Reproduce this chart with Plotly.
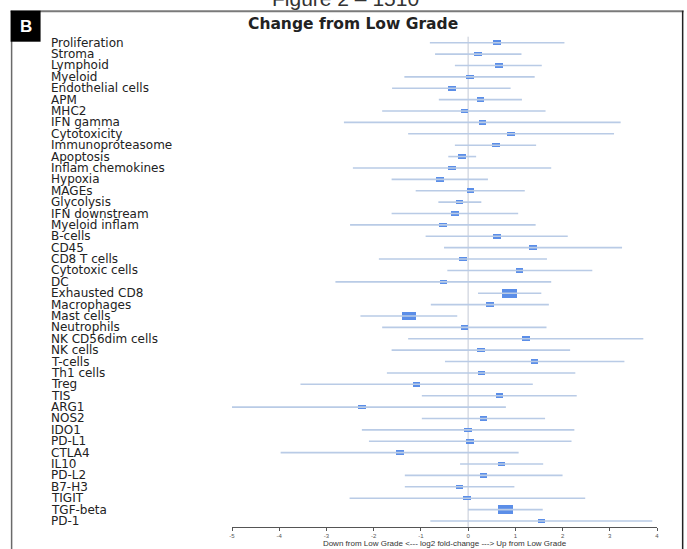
import plotly.graph_objects as go

# ---- data (log2 fold-change vs Low Grade) ----
signatures = [
    "Proliferation", "Stroma", "Lymphoid", "Myeloid", "Endothelial cells", "APM", "MHC2",
    "IFN gamma", "Cytotoxicity", "Immunoproteasome", "Apoptosis", "Inflam chemokines",
    "Hypoxia", "MAGEs", "Glycolysis", "IFN downstream", "Myeloid inflam", "B-cells", "CD45",
    "CD8 T cells", "Cytotoxic cells", "DC", "Exhausted CD8", "Macrophages", "Mast cells",
    "Neutrophils", "NK CD56dim cells", "NK cells", "T-cells", "Th1 cells", "Treg", "TIS",
    "ARG1", "NOS2", "IDO1", "PD-L1", "CTLA4", "IL10", "PD-L2", "B7-H3", "TIGIT",
    "TGF-beta", "PD-1",
]
estimate = [
    0.61, 0.21, 0.65, 0.04, -0.34, 0.26, -0.08, 0.30, 0.91, 0.59, -0.13, -0.34, -0.60,
    0.05, -0.18, -0.28, -0.53, 0.61, 1.37, -0.11, 1.09, -0.52, 0.88, 0.46, -1.25, -0.08,
    1.22, 0.27, 1.41, 0.28, -1.09, 0.66, -2.25, 0.33, 0.00, 0.04, -1.44, 0.71, 0.33,
    -0.18, -0.02, 0.79, 1.55,
]
ci_low = [
    -0.81, -0.70, -0.28, -1.35, -1.61, -0.62, -1.82, -2.63, -1.27, -0.28, -0.42, -2.44,
    -1.62, -1.11, -0.63, -1.62, -2.50, -0.90, -0.51, -1.89, -0.44, -2.81, 0.21, -0.79,
    -2.28, -1.82, -1.27, -1.62, -0.49, -1.72, -3.55, -0.98, -5.31, -0.98, -2.25, -2.10,
    -3.97, -0.17, -1.34, -1.34, -2.51, 0.00, -0.80,
]
ci_high = [
    2.04, 1.13, 1.56, 1.41, 0.90, 1.14, 1.64, 3.23, 3.09, 1.44, 0.17, 1.76, 0.42, 1.20,
    0.28, 1.06, 1.43, 2.11, 3.26, 1.67, 2.63, 1.76, 1.55, 1.71, -0.23, 1.66, 3.71, 2.16,
    3.31, 2.27, 1.37, 2.30, 0.80, 1.63, 2.25, 2.19, 1.07, 1.59, 2.00, 0.98, 2.48, 1.58,
    3.90,
]
# relative weight (drawn as box size)
weight = [1] * len(signatures)
for name in ("Exhausted CD8", "Mast cells", "TGF-beta"):
    weight[signatures.index(name)] = 1.9

x_ticks = [-5, -4, -3, -2, -1, 0, 1, 2, 3, 4]
x_title = "Down from Low Grade <--- log2 fold-change ---> Up from Low Grade"

# ---- layout geometry (pixels) ----
W, H = 687, 549
L, R, T, B = 231.7, 657.3, 37.3, 527.0


def px(x):
    return (x - L) / (R - L)


def py(y):
    return (B - y) / (B - T)


n = len(signatures)
idx = list(range(n))

fig = go.Figure()

# CI lines
lx, ly = [], []
for i, lo, hi in zip(idx, ci_low, ci_high):
    lx += [lo, hi, None]
    ly += [i, i, None]
fig.add_trace(go.Scatter(x=lx, y=ly, mode="lines",
                         line=dict(color="#b9cbe6", width=1.6),
                         hoverinfo="skip", showlegend=False))

# boxes
bw = [0.16 * w for w in weight]
bh = [0.40 * w for w in weight]
fig.add_trace(go.Bar(orientation="h", y=idx, x=bw,
                     base=[e - w / 2 for e, w in zip(estimate, bw)],
                     width=bh, marker=dict(color="#5b8ee8", line=dict(width=0)),
                     showlegend=False, hoverinfo="skip"))

shapes = [
    # zero reference line
    dict(type="line", xref="x", yref="paper", x0=0, x1=0, y0=0, y1=py(37),
         line=dict(color="#c3c9d6", width=1), layer="below"),
    # frame
    dict(type="line", xref="paper", yref="paper", x0=px(10), x1=px(684), y0=py(11.5), y1=py(11.5),
         line=dict(color="#7a7a7a", width=2)),
    dict(type="line", xref="paper", yref="paper", x0=px(11), x1=px(11), y0=py(11), y1=py(552),
         line=dict(color="#6a6a6a", width=1.5)),
    dict(type="line", xref="paper", yref="paper", x0=px(683), x1=px(683), y0=py(11), y1=py(552),
         line=dict(color="#222222", width=1.5)),
    # black "B" tab
    dict(type="rect", xref="paper", yref="paper", x0=px(10), x1=px(40), y0=py(42), y1=py(11),
         fillcolor="#000000", line=dict(width=0)),
]

annotations = [
    dict(text="<b>B</b>", xref="paper", yref="paper", x=px(25), y=py(26.5),
         xanchor="center", yanchor="middle", showarrow=False,
         font=dict(family="Liberation Sans", size=17, color="white")),
    dict(text="<b>Change from Low Grade</b>", xref="paper", yref="paper", x=px(353), y=py(24),
         xanchor="center", yanchor="middle", showarrow=False,
         font=dict(family="DejaVu Sans", size=15.5, color="#222222")),
    dict(text="Figure 2 \u2013 1510", xref="paper", yref="paper", x=px(345), y=py(12),
         xanchor="center", yanchor="bottom", showarrow=False,
         font=dict(family="Liberation Sans", size=21, color="#333333")),
]
for i, name in zip(idx, signatures):
    annotations.append(dict(text=name, xref="paper", yref="y", x=px(48.5), y=i,
                            xanchor="left", yanchor="middle", showarrow=False,
                            font=dict(family="DejaVu Sans", size=12, color="#222222")))

fig.update_layout(
    width=W, height=H,
    margin=dict(l=L, r=W - R, t=T, b=H - B, pad=0),
    paper_bgcolor="white", plot_bgcolor="white",
    bargap=0, barmode="overlay",
    shapes=shapes, annotations=annotations,
    xaxis=dict(range=[-5, 4], tickvals=x_ticks, ticktext=[str(t) for t in x_ticks],
               automargin=False,
               showgrid=False, zeroline=False, showline=True, linecolor="#555555",
               linewidth=1.2, ticks="outside", ticklen=3, tickcolor="#555555",
               tickfont=dict(family="Liberation Sans", size=6, color="#555555"),
               title=dict(text=x_title, standoff=0,
                          font=dict(family="Liberation Sans", size=8, color="#333333"))),
    yaxis=dict(range=[n - 0.47, -0.5], visible=False, showgrid=False, zeroline=False,
               automargin=False),
)

fig.write_html("out.html", config={"displayModeBar": False},
               post_script="document.body.style.margin='0';document.body.style.overflow='hidden';")
